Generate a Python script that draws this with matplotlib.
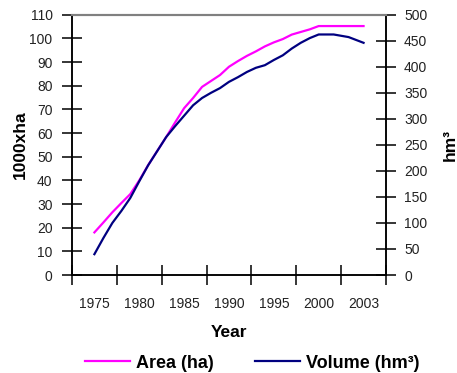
import numpy as np
import matplotlib
matplotlib.use("Agg")
import matplotlib.pyplot as plt

plt.rcParams['font.family'] = ['Liberation Sans', 'DejaVu Sans']

years = list(range(1975, 2004))
area = [18.0, 22.2, 26.5, 30.4, 34.2, 40.0, 46.5, 52.4, 58.3, 64.5,
        70.5, 74.8, 79.5, 82.0, 84.5, 88.0, 90.4, 92.6, 94.5, 96.6,
        98.3, 99.7, 101.6, 102.7, 103.8, 105.2, 105.2, 105.2, 105.2]
volume = [40, 71, 100, 123, 148, 180, 211, 238, 265, 286,
          306, 326, 340, 350, 359, 371, 380, 390, 398, 403,
          413, 422, 435, 446, 455, 462, 462, 457, 446]
label_years = [1975, 1980, 1985, 1990, 1995, 2000, 2003]

# category-style x axis: the labelled years sit at equal spacing
ref_years = np.array([1970] + label_years + [2006], dtype=float)
ref_idx = np.arange(-1, len(label_years) + 1, dtype=float)


def fwd(x):
    return np.interp(x, ref_years, ref_idx)


def inv(i):
    return np.interp(i, ref_idx, ref_years)


txt = '#222222'
fig = plt.figure(figsize=(4.57, 3.73), dpi=100)
ax = fig.add_axes([0.1575, 0.2627, 0.6871, 0.6979])
ax2 = ax.twinx()
ax.set_xscale('function', functions=(fwd, inv))

l1, = ax.plot(years, area, color='#ff00ff', lw=1.6, label='Area (ha)')
l2, = ax2.plot(years, volume, color='#000080', lw=1.6, label='Volume (hm³)')

ax.set_xlim(inv(-0.5), inv(len(label_years) - 0.5))
ax.set_ylim(0, 110)
ax2.set_ylim(0, 500)
ax.set_yticks(np.arange(0, 111, 10))
ax2.set_yticks(np.arange(0, 501, 50))

# tick marks on the category boundaries, labels in between
ax.set_xticks(inv(np.arange(-0.5, len(label_years), 1.0)))
ax.set_xticklabels([])
ax.set_xticks(label_years, minor=True)
ax.set_xticklabels([str(y) for y in label_years], minor=True)
ax.tick_params(axis='x', which='minor', length=0, pad=16, labelsize=10, labelcolor=txt)
ax.tick_params(axis='x', which='major', direction='inout', length=14, width=1.1)
ax.tick_params(axis='y', direction='inout', length=14, width=1.1, pad=7,
               labelsize=10, labelcolor=txt)
ax2.tick_params(axis='y', direction='inout', length=14, width=1.1, pad=6,
                labelsize=10, labelcolor=txt)

for a in (ax, ax2):
    for s in ('left', 'bottom', 'right'):
        a.spines[s].set_linewidth(1.1)
        a.spines[s].set_color('black')
    a.spines['top'].set_color('#808080')
    a.spines['top'].set_linewidth(1.5)

ax.set_ylabel('1000xha', fontsize=12.5, fontweight='bold', labelpad=1)
ax2.set_ylabel('hm³', fontsize=12.5, fontweight='bold', labelpad=11)
ax.set_xlabel('Year', fontsize=12.5, fontweight='bold', labelpad=10)

fig.legend(handles=[l1, l2], loc='lower center', bbox_to_anchor=(0.552, -0.04),
           ncol=2, frameon=False, handlelength=2.5, handletextpad=0.3,
           columnspacing=2.3, prop={'weight': 'bold', 'size': 13})

fig.savefig('out.png', dpi=100)
